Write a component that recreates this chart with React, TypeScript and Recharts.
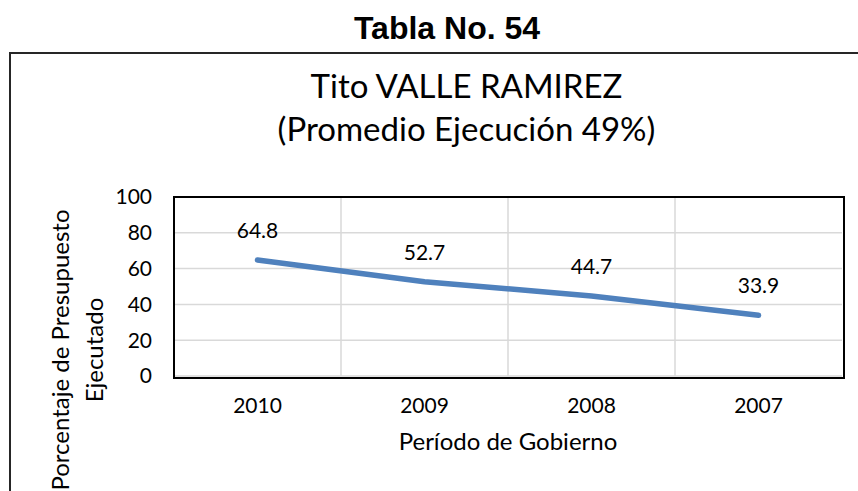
import React from "react";
import { LineChart, Line, XAxis, YAxis, CartesianGrid, LabelList, Label } from "recharts";

const periods = ["2010", "2009", "2008", "2007"];
const executed = [64.8, 52.7, 44.7, 33.9];
const yTicks = [0, 20, 40, 60, 80, 100];

const data = periods.map((p, i) => ({ period: p, value: executed[i] }));

const FONT = "Lato, 'Open Sans', sans-serif";

// plot box, kept in one place so the frame overlay lines up with the chart margins
const PLOT = { left: 174, top: 197, right: 842, bottom: 376 };
const W = 858;
const H = 491;
const HALF_BAND = (PLOT.right - PLOT.left) / periods.length / 2;

const YTitle = () => (
  <text
    transform="translate(78, 350) rotate(-90)"
    textAnchor="middle"
    fontFamily={FONT}
    fontSize={24}
    fill="#000"
  >
    <tspan x={0} dy={-9}>Porcentaje de Presupuesto</tspan>
    <tspan x={0} dy={34}>Ejecutado</tspan>
  </text>
);

export default function App() {
  return (
    <div style={{ position: "absolute", left: 0, top: 0, width: W, height: H, overflow: "hidden", background: "#fff" }}>
      <div
        style={{
          position: "absolute", left: 0, width: 894, top: 10, textAlign: "center",
          fontFamily: "'Liberation Sans', Arial, sans-serif", fontWeight: 700, fontSize: 32, lineHeight: "36px",
        }}
      >
        Tabla No. 54
      </div>

      {/* outer chart frame, runs past the right and bottom edges */}
      <div style={{ position: "absolute", left: 9, top: 52, width: 900, height: 500, border: "2px solid #262626" }} />

      <div
        style={{
          position: "absolute", left: 0, width: 933, top: 64, textAlign: "center",
          fontFamily: FONT, fontSize: 33, lineHeight: "43px", color: "#000",
        }}
      >
        <div>Tito VALLE RAMIREZ</div>
        <div>(Promedio Ejecución 49%)</div>
      </div>

      <div style={{ position: "absolute", left: 0, top: 0 }}>
        <LineChart
          width={W}
          height={H}
          data={data}
          margin={{ top: PLOT.top, right: W - PLOT.right, bottom: 0, left: 0 }}
        >
          <CartesianGrid
            stroke="#d9d9d9"
            strokeWidth={1.5}
            verticalCoordinatesGenerator={({ offset }: any) =>
              periods.slice(1).map((_, i) => offset.left + (offset.width * (i + 1)) / periods.length)
            }
          />
          <XAxis
            dataKey="period"
            height={H - PLOT.bottom}
            padding={{ left: HALF_BAND, right: HALF_BAND }}
            tickLine={false}
            axisLine={false}
            tickSize={0}
            tickMargin={22}
            tick={{ fill: "#000", fontSize: 21, fontFamily: FONT }}
          >
            <Label
              value="Período de Gobierno"
              position="insideTop"
              offset={57}
              style={{ fill: "#000", fontSize: 24, fontFamily: FONT }}
            />
          </XAxis>
          <YAxis
            width={PLOT.left}
            domain={[0, 100]}
            ticks={yTicks}
            interval={0}
            tickLine={false}
            axisLine={false}
            tickSize={0}
            tickMargin={22}
            tick={{ fill: "#000", fontSize: 21, fontFamily: FONT }}
          >
            <Label content={<YTitle />} />
          </YAxis>
          <Line
            type="linear"
            dataKey="value"
            stroke="#4F81BD"
            strokeWidth={5.5}
            strokeLinecap="round"
            dot={false}
            activeDot={false}
            isAnimationActive={false}
          >
            <LabelList
              dataKey="value"
              position="top"
              offset={22}
              style={{ fill: "#000", fontSize: 21, fontFamily: FONT }}
            />
          </Line>
        </LineChart>
      </div>

      {/* plot frame */}
      <div
        style={{
          position: "absolute",
          left: PLOT.left - 1,
          top: PLOT.top - 1,
          width: PLOT.right - PLOT.left,
          height: PLOT.bottom - PLOT.top,
          border: "2px solid #000",
          pointerEvents: "none",
        }}
      />
    </div>
  );
}
